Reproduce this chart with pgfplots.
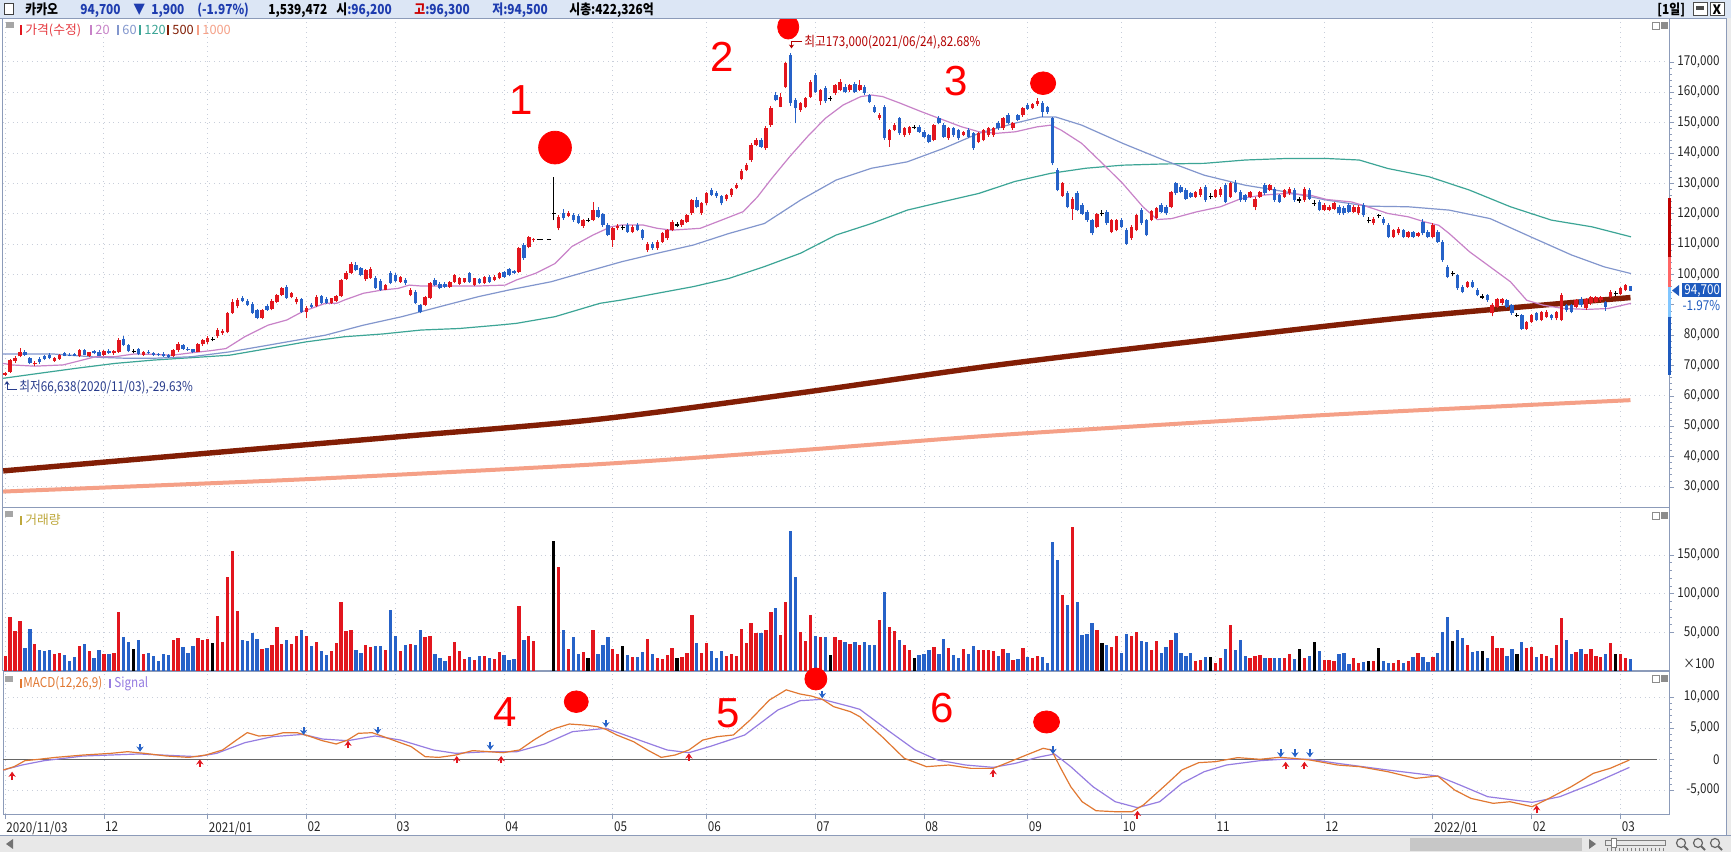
\documentclass[border=0pt]{standalone}
\usepackage{fontspec}
\setmainfont{Noto Sans CJK KR}
\newfontfamily\cond{Noto Sans CJK KR}[FakeStretch=0.86]
\newfontfamily\numfont{Liberation Sans}
\usepackage{pgfplots}
\usepackage{pgfplotstable}
\pgfplotsset{compat=1.18}
\usetikzlibrary{arrows.meta}
\definecolor{cred}{RGB}{226,22,30}
\definecolor{cblue}{RGB}{38,98,200}
\definecolor{ma20}{RGB}{200,130,200}
\definecolor{ma60}{RGB}{130,150,205}
\definecolor{ma120}{RGB}{60,165,150}
\definecolor{ma500}{RGB}{130,30,5}
\definecolor{ma1000}{RGB}{245,160,135}
\definecolor{macdc}{RGB}{225,120,50}
\definecolor{sigc}{RGB}{150,125,225}
\definecolor{framec}{RGB}{140,155,185}
\definecolor{gridc}{RGB}{200,206,218}
\definecolor{hdrbg}{RGB}{220,230,245}
\definecolor{annred}{RGB}{255,0,0}
\definecolor{hblue}{RGB}{30,60,175}
\definecolor{maxc}{RGB}{180,0,0}
\definecolor{minc}{RGB}{40,60,140}
\definecolor{volc}{RGB}{190,168,60}
\definecolor{boxblue}{RGB}{30,90,190}
\newcommand\tf{\cond\fontsize{6.8pt}{7pt}\selectfont}
\newcommand\lf{\fontsize{6.4pt}{7pt}\selectfont}
\newcommand\hf{\cond\bfseries\fontsize{6.9pt}{8pt}\selectfont}

\pgfplotstableread{
i o h l c v
0 66.9 68.0 66.6 67.5 19.5
1 68.0 72.3 67.6 71.8 70.1
2 71.6 73.0 71.0 72.6 52.0
3 73.0 75.8 72.8 74.4 65.0
4 74.6 75.2 73.2 73.5 29.5
5 72.4 72.8 70.5 70.9 54.6
6 70.4 71.6 69.9 71.0 35.1
7 72.2 72.8 70.6 71.1 26.9
8 73.0 73.6 71.8 72.3 26.0
9 73.5 74.0 72.0 72.4 27.3
10 71.6 72.8 71.2 72.4 22.1
11 72.2 73.8 71.9 73.4 23.4
12 74.0 74.5 73.1 73.3 20.8
13 73.6 74.0 73.0 73.2 13.0
14 73.8 74.2 73.0 73.3 18.2
15 73.0 75.4 72.8 75.0 32.5
16 75.1 75.6 73.4 73.6 35.1
17 73.2 74.6 72.9 74.4 26.0
18 74.8 75.2 73.8 74.0 16.9
19 74.6 75.0 73.0 73.2 27.3
20 73.5 75.0 73.2 74.8 22.1
21 74.9 75.3 73.9 74.2 22.1
22 74.0 75.2 73.6 74.9 23.4
23 74.6 79.2 74.2 78.3 76.6
24 78.8 79.6 76.4 76.8 44.2
25 76.8 77.2 74.4 74.7 37.7
26 74.6 75.3 74.0 74.6 28.6
27 75.4 75.8 73.4 73.8 40.3
28 73.6 74.8 73.3 74.5 22.1
29 74.6 75.0 73.8 74.0 23.4
30 74.2 74.6 73.3 73.6 19.5
31 73.8 74.2 73.1 73.4 13.0
32 73.9 74.4 72.9 73.1 22.1
33 73.4 73.8 72.6 72.9 20.8
34 73.0 75.6 72.8 75.2 40.3
35 75.1 77.6 74.6 77.0 42.9
36 76.8 77.2 75.2 75.6 31.2
37 75.6 76.0 74.8 75.1 23.4
38 75.3 75.6 74.2 74.5 32.5
39 74.6 77.3 74.4 77.0 42.9
40 77.0 78.6 76.6 78.3 40.7
41 77.6 79.6 77.2 79.2 41.6
42 78.6 79.4 78.0 78.6 36.4
43 79.6 82.3 79.2 81.7 71.4
44 80.8 82.0 80.2 81.3 38.1
45 80.9 87.8 80.6 87.2 122.1
46 87.4 92.0 87.0 91.0 155.9
47 89.6 92.4 88.8 91.6 77.9
48 92.2 92.8 90.8 91.1 40.3
49 91.2 91.8 89.6 90.0 39.0
50 90.4 90.8 87.0 87.4 49.4
51 88.2 88.6 85.3 85.7 41.6
52 85.6 88.6 85.2 88.2 28.6
53 89.6 90.2 88.0 88.4 29.9
54 88.6 91.8 88.2 91.2 33.8
55 91.0 93.6 90.6 93.2 57.2
56 93.4 96.0 93.0 95.6 35.1
57 95.8 96.6 92.0 92.4 40.3
58 92.6 94.2 92.2 93.8 35.1
59 91.0 92.6 90.4 92.0 45.5
60 92.0 92.4 87.4 87.8 53.3
61 87.8 89.6 85.5 89.0 45.5
62 90.0 90.6 89.0 89.4 32.5
63 89.6 93.2 89.2 92.7 37.7
64 92.8 93.4 90.2 90.6 26.0
65 92.0 92.6 90.2 90.6 20.8
66 90.6 92.4 90.2 92.1 26.0
67 91.2 93.2 90.8 92.8 36.4
68 92.8 98.6 92.5 98.2 89.6
69 98.6 101.0 98.2 100.4 52.0
70 100.4 104.2 100.0 103.6 53.3
71 103.2 104.0 101.0 101.4 27.3
72 102.0 102.6 99.4 99.8 23.4
73 98.4 101.8 98.0 101.4 33.8
74 99.0 102.4 98.6 101.8 31.2
75 99.0 99.4 95.2 95.6 32.5
76 97.8 98.4 94.6 95.0 32.5
77 95.0 97.0 94.8 96.5 26.9
78 100.4 101.0 96.8 97.2 79.2
79 99.8 100.4 97.4 97.8 45.5
80 97.6 99.6 97.2 99.2 26.0
81 98.2 98.8 96.6 97.1 33.8
82 93.2 95.4 92.8 94.9 35.1
83 94.3 94.8 90.2 90.5 33.3
84 89.9 90.4 87.2 87.7 53.3
85 89.9 93.0 89.6 92.7 44.2
86 92.1 97.6 91.8 97.1 45.5
87 98.2 98.8 96.2 96.5 22.1
88 96.9 97.4 95.1 95.4 16.9
89 96.9 97.4 95.6 96.0 13.0
90 96.0 97.8 95.6 97.4 19.5
91 97.6 100.2 97.2 99.8 37.7
92 97.0 99.2 96.6 98.7 26.0
93 97.6 99.0 97.2 98.7 15.6
94 100.4 100.8 97.2 97.6 18.2
95 96.5 99.0 96.2 98.7 14.3
96 98.4 98.8 96.8 97.1 19.5
97 97.1 99.6 96.8 99.3 19.5
98 99.3 99.8 97.2 97.6 16.9
99 98.2 99.8 97.8 99.3 15.6
100 98.7 100.8 98.4 100.4 24.7
101 100.8 101.2 99.0 99.3 20.4
102 101.7 102.2 99.4 99.8 14.3
103 101.0 101.6 100.0 100.4 15.6
104 100.9 109.0 100.6 108.6 84.4
105 109.7 110.4 104.8 105.3 40.3
106 109.1 112.6 108.6 112.2 45.5
107 111.2 112.0 110.8 111.6 39.0
111 120.1 132.2 117.9 120.1 168.8
112 115.2 119.6 114.6 119.0 135.1
113 120.1 121.6 118.0 118.5 53.3
114 119.4 121.0 118.8 120.4 28.6
115 119.6 120.2 117.4 117.8 44.2
116 119.4 119.8 116.6 117.0 22.1
117 116.0 118.4 115.4 118.0 24.7
118 117.9 118.6 117.2 117.9 16.9
119 118.0 124.0 117.6 121.2 53.3
120 121.4 122.2 118.6 119.0 22.1
121 120.0 120.4 115.8 116.3 33.8
122 116.3 116.8 112.6 113.0 44.2
123 111.3 115.6 109.2 115.2 28.6
124 115.2 116.6 114.6 116.1 22.1
125 115.4 116.4 114.6 115.4 32.5
126 116.3 116.8 113.8 114.1 20.8
127 114.1 116.2 113.6 115.7 18.2
128 116.3 116.8 114.2 114.6 18.2
129 114.6 115.0 111.4 111.9 24.7
130 108.1 110.6 107.4 110.2 41.6
131 110.2 110.8 108.2 108.6 22.1
132 108.6 111.2 108.2 110.8 16.9
133 110.8 113.9 110.4 113.5 15.6
134 111.9 115.0 111.5 114.6 20.8
135 114.6 117.8 114.2 117.4 29.9
136 116.3 117.2 115.6 116.3 16.9
137 116.3 118.3 115.8 117.9 18.2
138 117.4 120.0 117.0 119.6 23.4
139 120.1 125.0 119.6 124.5 72.7
140 124.5 125.4 121.8 122.3 36.4
141 120.1 123.8 119.6 123.4 23.4
142 123.4 127.2 123.0 126.7 36.4
143 127.8 128.4 125.8 126.2 26.0
144 127.0 127.6 125.2 125.7 16.9
145 125.7 126.2 122.8 123.4 26.0
146 124.8 126.6 124.2 126.1 19.5
147 126.1 128.5 125.6 128.0 22.1
148 128.4 130.0 128.0 129.5 19.5
149 131.5 134.6 131.0 134.0 54.6
150 134.4 136.8 134.0 136.1 36.4
151 137.6 143.2 137.2 142.6 62.3
152 142.6 145.0 142.2 144.3 49.4
153 144.3 145.0 141.6 142.1 49.4
154 141.5 148.8 141.0 148.1 53.3
155 149.2 155.4 148.6 154.7 76.6
156 159.1 160.0 157.0 157.5 81.8
157 155.3 159.7 155.0 158.6 46.8
158 161.9 170.0 161.4 169.5 89.6
159 172.3 173.0 155.6 156.4 181.8
160 157.5 158.0 149.8 154.7 122.1
161 154.2 156.8 153.6 156.4 50.7
162 155.3 158.6 154.8 158.0 39.0
163 158.6 164.0 158.2 163.5 72.7
164 165.8 166.4 159.8 160.2 45.5
165 157.0 161.2 155.8 160.8 43.7
166 161.4 162.0 156.6 157.0 43.7
167 158.0 158.8 157.2 158.0 20.8
168 159.7 162.8 159.2 162.4 44.2
169 160.8 164.4 160.4 163.5 40.3
170 161.9 162.6 159.8 160.2 37.7
171 160.8 162.8 160.2 162.4 35.1
172 162.9 163.4 159.8 160.2 37.7
173 160.8 164.0 160.4 162.4 33.8
174 161.9 162.4 159.2 159.7 37.7
175 159.1 159.6 156.4 156.9 33.8
176 155.3 155.8 153.2 153.6 33.8
177 151.4 153.2 151.0 152.5 66.3
178 155.3 155.8 144.4 144.8 102.6
179 144.3 148.0 142.1 147.6 57.2
180 147.6 149.8 147.2 149.2 52.0
181 151.4 152.0 146.0 146.5 40.3
182 145.9 148.6 145.4 148.1 33.8
183 146.5 149.0 146.0 148.7 27.3
184 148.5 149.2 147.8 148.5 16.9
185 148.7 149.2 146.6 147.0 20.8
186 147.0 147.6 145.0 145.4 22.1
187 145.9 146.4 143.2 143.7 27.3
188 144.3 149.6 143.8 149.2 31.2
189 151.4 152.2 149.4 149.8 22.1
190 149.2 149.8 145.0 145.4 41.6
191 144.8 148.6 144.4 148.1 29.9
192 148.1 148.6 145.4 145.9 20.8
193 147.6 148.0 144.4 144.8 16.9
194 146.0 147.4 145.6 147.0 28.6
195 147.6 148.2 145.0 145.4 22.1
196 146.5 147.0 141.0 141.5 32.5
197 143.7 146.8 143.2 146.5 27.3
198 144.3 148.0 143.8 147.6 27.3
199 145.9 148.6 145.4 148.1 27.3
200 145.9 148.6 145.4 148.1 26.0
201 149.8 150.4 147.6 148.1 19.5
202 148.1 151.8 147.6 151.4 28.6
203 152.5 153.2 149.4 149.8 23.4
204 148.1 150.2 147.6 149.8 14.3
205 152.5 153.0 150.4 150.9 15.6
206 152.5 155.2 152.0 154.7 29.9
207 155.8 156.4 154.2 154.4 18.2
208 154.8 156.4 154.4 156.0 16.9
209 156.0 158.0 155.6 157.2 19.5
210 156.4 157.0 152.0 153.6 18.2
211 155.0 155.6 153.0 153.6 10.4
212 151.4 152.0 136.0 136.6 167.5
213 134.4 135.2 127.4 127.8 144.2
214 126.0 130.6 125.6 130.0 98.7
215 127.0 127.6 121.8 122.3 85.7
216 121.7 125.6 118.0 125.0 187.0
217 126.7 127.4 120.8 121.2 89.6
218 123.0 123.6 119.6 120.0 46.8
219 120.6 121.2 117.4 117.9 48.1
220 117.9 118.4 113.0 113.5 62.4
221 115.7 120.4 115.2 120.0 53.3
222 120.0 121.2 119.2 120.0 36.4
223 120.6 121.2 116.4 116.8 33.8
224 114.0 118.4 113.6 118.0 31.2
225 114.6 118.4 114.2 117.9 45.5
226 117.9 118.6 115.2 115.7 23.4
227 114.6 115.2 109.8 110.2 48.1
228 111.9 116.2 111.4 115.7 45.5
229 114.6 120.0 114.2 119.5 50.7
230 121.2 121.8 116.4 116.8 39.0
231 117.9 118.4 112.6 113.0 37.7
232 118.0 121.4 117.6 121.0 27.3
233 118.7 122.2 118.2 121.8 39.0
234 122.9 123.4 120.2 120.6 23.4
235 122.3 122.8 119.6 120.1 31.2
236 122.3 127.6 121.8 127.2 40.3
237 130.0 130.6 126.2 126.7 49.4
238 128.9 129.4 126.8 127.2 23.4
239 127.8 128.4 124.6 125.0 19.5
240 126.7 127.2 125.2 125.6 23.4
241 125.6 127.6 125.2 127.2 13.4
242 126.1 128.8 125.6 128.3 14.3
243 128.9 129.6 124.0 124.5 18.2
244 125.6 126.8 124.8 125.6 18.2
245 125.6 128.2 125.2 127.8 10.4
246 126.1 128.8 125.6 128.3 16.9
247 129.4 130.0 123.4 123.9 28.6
248 125.6 130.4 125.2 130.0 59.8
249 130.0 131.0 126.8 127.2 27.3
250 127.2 127.8 124.0 124.5 40.3
251 126.1 126.6 124.0 124.5 19.5
252 125.6 127.6 125.2 127.2 16.9
253 122.3 125.4 121.2 125.0 19.5
254 125.6 127.6 125.2 127.2 20.8
255 129.4 130.0 126.2 126.7 16.9
256 127.8 129.8 127.4 129.4 16.9
257 128.3 128.8 124.0 124.5 16.9
258 126.1 126.6 123.6 124.0 16.9
259 125.6 128.2 125.2 127.8 16.9
260 126.7 128.9 126.2 128.3 22.1
261 127.8 128.4 124.0 124.5 15.6
262 124.5 125.6 123.6 124.5 28.6
263 124.5 128.8 124.0 128.3 16.9
264 127.8 128.4 124.6 125.0 19.5
265 123.4 124.4 122.6 123.4 37.7
266 124.0 124.6 120.8 121.2 26.0
267 121.2 123.4 120.8 122.9 14.3
268 121.2 122.8 120.8 122.3 14.3
269 121.6 123.8 121.2 123.4 13.0
270 122.3 122.8 119.6 120.1 22.1
271 121.8 122.4 119.6 120.1 23.4
272 122.9 123.4 120.2 120.6 9.1
273 120.6 122.8 120.2 122.3 16.9
274 120.1 122.8 119.6 122.3 10.4
275 122.9 123.4 119.0 119.5 11.7
276 117.9 119.0 116.8 117.9 13.0
277 116.8 118.8 116.4 118.4 13.4
278 119.3 120.0 118.6 119.3 29.9
279 118.4 118.8 116.4 116.8 13.0
280 116.2 116.8 112.0 112.4 10.4
281 112.4 115.0 112.0 114.6 10.4
282 113.5 115.6 113.0 115.1 14.3
283 114.6 115.0 112.0 112.4 10.4
284 112.4 114.4 112.0 114.0 13.0
285 114.0 114.4 112.0 112.4 18.2
286 112.6 113.9 112.2 113.5 23.4
287 117.3 118.4 113.0 113.5 17.8
288 114.0 114.6 112.0 112.4 11.7
289 112.4 116.8 112.0 116.2 18.2
290 114.0 114.6 110.4 110.8 23.4
291 110.8 111.2 104.2 104.7 50.7
292 102.5 103.0 98.8 99.2 70.1
293 100.3 101.0 99.4 100.3 39.0
294 99.8 100.2 95.0 95.4 53.3
295 96.0 96.6 93.8 94.3 42.9
296 96.0 98.0 95.6 97.6 33.8
297 97.6 98.2 95.6 96.0 24.7
298 95.0 95.4 92.8 93.2 26.0
299 92.6 93.6 92.0 92.6 26.0
300 93.2 93.6 91.0 91.5 16.9
301 87.2 90.6 86.2 89.9 45.5
302 89.3 92.4 88.8 92.0 29.9
303 90.5 92.4 90.0 92.0 29.9
304 91.5 92.0 88.8 89.3 19.5
305 89.9 90.4 86.8 87.2 28.6
306 86.6 87.4 86.0 86.6 22.1
307 86.6 87.0 81.8 82.2 37.7
308 82.2 84.8 81.8 84.4 29.9
309 84.4 87.0 84.0 86.6 31.2
310 87.2 87.6 84.6 85.0 17.8
311 85.0 88.0 84.6 87.7 22.1
312 86.1 88.2 85.6 87.7 19.5
313 86.6 87.0 85.0 85.5 16.9
314 85.5 88.0 85.0 87.7 33.8
315 85.0 93.8 84.6 93.2 68.8
316 89.9 90.4 87.8 88.3 40.3
317 89.9 90.4 87.2 87.7 22.1
318 89.3 91.8 88.8 91.5 24.7
319 92.0 92.6 89.4 89.9 28.6
320 88.8 92.4 88.4 92.0 22.1
321 90.5 93.0 90.0 92.6 28.6
322 91.0 93.0 90.6 92.6 19.5
323 91.5 93.0 91.0 92.6 17.8
324 91.0 91.4 88.0 89.3 22.1
325 92.6 94.8 92.2 94.3 36.4
326 93.7 94.6 93.0 93.7 22.1
327 93.7 95.8 93.4 95.4 22.1
328 94.8 97.0 94.4 96.5 16.9
329 96.2 96.3 94.5 94.7 15.6
}\candles

\pgfplotsset{panel/.style={
  scale only axis, anchor=south west, width=833pt,
  xmin=-0.445, xmax=336.8,
  axis background/.style={fill=white},
  axis line style={framec, line width=0.5pt},
  xtick={0,20,41,61,79,101,123,142,164,186,207,226,245,267,289,309,327},
  grid=major, grid style={gridc, dotted, line width=0.5pt},
  ytick pos=right, yticklabel pos=right,
  tick align=outside,
  major tick length=2.5pt, minor tick length=1.4pt,
  every tick/.style={framec, line width=0.4pt},
  yticklabel style={font=\tf, anchor=east, inner sep=0pt, xshift=23pt, text=black!85},
  clip=false,
},
ebar/.style={only marks, mark=*, mark size=0pt, mark options={draw=none, fill=none}},
}

\begin{document}
\begin{tikzpicture}
\path[use as bounding box] (0,0) rectangle (865.5pt,426pt);
\fill[white] (0,0) rectangle (865.5pt,426pt);

% ---------------- price panel
\begin{axis}[panel, at={(1.5pt,172pt)}, height=244.5pt, ymin=23.08, ymax=184.15,
  xticklabels={}, xtick style={draw=none},
  ytick={30,40,...,170},
  yticklabels={{30,000},{40,000},{50,000},{60,000},{70,000},{80,000},{90,000},{100,000},{110,000},{120,000},{130,000},{140,000},{150,000},{160,000},{170,000}},
  minor y tick num=4]
\addplot[ma1000, line width=2pt, smooth, tension=0.4] coordinates {(-0.4,28.5) (60,32.5) (120,37.5) (160,42) (201,47.1) (267,53.7) (329,58.6)};
\addplot[ma500, line width=2.7pt, smooth, tension=0.5] coordinates {(-0.4,35.3) (40,41.0) (80,46.6) (120,52.3) (160,60.8) (201,70.2) (243,78.4) (284,85.9) (329,92.4)};
\addplot[ma120, line width=0.6pt] coordinates {(-0.4,65.8) (6.7,67.4) (14.4,69.1) (22.2,70.7) (30,71.8) (37.7,72.6) (45.4,73.4) (53.2,75.6) (60.9,77.8) (68.7,79.5) (76.4,80.4) (84.2,81.7) (91.9,82.2) (99.7,83.3) (103.5,83.9) (111.3,86.1) (120.4,90.5) (124.8,91.6) (132,93.8) (139.3,96) (146.5,98.7) (153.7,102.6) (161,107) (168.2,113) (175.4,116.8) (182.6,121.2) (189.9,124) (197.1,126.7) (204.3,130.6) (211.6,133.3) (218.8,135) (226.2,136) (234.5,136.4) (242.7,136.6) (251,137.7) (259.3,138.2) (267.5,138.2) (274.1,137.7) (279.9,134.9) (288.2,132.2) (296.4,127.8) (304.7,122.3) (313,117.9) (321.2,115.7) (329.1,112.4)};
\addplot[ma60, line width=0.6pt] coordinates {(-0.4,73.8) (9.8,73.8) (19.1,72.7) (24.5,72.4) (30,72.4) (37.7,72.9) (45.4,74.5) (53.2,76.7) (64.8,80) (72.5,83.3) (80.3,86.1) (88,89.4) (95.8,92.7) (102,94.9) (110.5,97.6) (117.6,100.9) (124.8,104.2) (132,107) (139.3,109.7) (146.5,113.5) (153.7,116.8) (161,124.5) (168.2,131.1) (175.4,135) (182.6,137.1) (189.9,141.5) (197.1,146.5) (204.3,149.8) (209.7,151.9) (212.6,151.9) (217.9,149.2) (226.2,143.2) (234.5,137.7) (242.7,132.7) (251,129.4) (259.3,127.2) (267.5,124.5) (275.8,122.5) (284,122.3) (292.3,121.2) (300.6,118.4) (308.8,112.4) (317.1,106.4) (323.7,102.5) (329.1,100.3)};
\addplot[ma20, line width=0.6pt] coordinates {(-0.4,70.7) (1.3,70.2) (6,69.8) (11.7,70.2) (14.4,71.3) (18.3,72.9) (22.2,72.9) (26,73.8) (30,73.7) (33.8,73.4) (37.7,74.2) (41.6,74.9) (44.7,75.6) (48.5,79.5) (53.2,83.3) (57,85) (60.1,87.7) (64.8,90.5) (67.1,90.5) (68.7,91.6) (72.5,93.8) (76.4,94.9) (79.5,95.4) (81.8,96.5) (84.2,96.2) (90.4,96.2) (95.8,96.2) (101.2,96.5) (103.5,98.2) (107.4,100.4) (111.3,103.6) (114.7,109.2) (119,113) (122.6,115.7) (124.8,116.3) (129.1,116.3) (132,115.2) (134.9,114.6) (140.7,115.2) (145,117.9) (149.4,120.7) (152.3,125.6) (155.2,131.7) (158.8,138.8) (162.4,145.4) (166,151.4) (169.6,155.8) (173.2,158.6) (175.4,159.1) (177.6,158.6) (181.2,156.4) (185.5,153.6) (189.9,150.9) (193.5,148.7) (197.1,147) (200.7,146.5) (204.5,147) (208.8,148.6) (211.7,149.2) (213.8,147.5) (217.9,143.2) (222.1,136.6) (226.2,130) (230.3,122.3) (233.2,118.1) (236.1,118.4) (241.1,120.6) (246,122.3) (250.2,125) (254.3,126.1) (259.3,126.7) (264.2,126.1) (267.5,124.7) (272.5,123.9) (275.8,122.3) (279.9,120.1) (284,119) (287.4,117.3) (290.2,116.2) (292.3,113.5) (296.4,107.5) (300.6,102.5) (304.7,97.6) (308,91.5) (311.3,89.9) (315.4,88.8) (320.4,88.5) (324.5,88.8) (329.1,90.5)};
% wicks
\addplot[ebar, restrict expr to domain={\thisrow{c}-\thisrow{o}}{0.05:1000},
  error bars/.cd, y dir=plus, y explicit, error mark=none, error bar style={draw=cred, line width=0.5pt}]
  table[x=i, y=l, y error plus expr={\thisrow{h}-\thisrow{l}}] {\candles};
\addplot[ebar, restrict expr to domain={\thisrow{c}-\thisrow{o}}{-1000:-0.05},
  error bars/.cd, y dir=plus, y explicit, error mark=none, error bar style={draw=cblue, line width=0.5pt}]
  table[x=i, y=l, y error plus expr={\thisrow{h}-\thisrow{l}}] {\candles};
\addplot[ebar, restrict expr to domain={\thisrow{c}-\thisrow{o}}{-0.05:0.05},
  error bars/.cd, y dir=plus, y explicit, error mark=none, error bar style={draw=black, line width=0.5pt}]
  table[x=i, y=l, y error plus expr={\thisrow{h}-\thisrow{l}}] {\candles};
% bodies
\addplot[ebar, restrict expr to domain={\thisrow{c}-\thisrow{o}}{0.05:1000},
  error bars/.cd, y dir=plus, y explicit, error mark=none, error bar style={draw=cred, line width=1.7pt}]
  table[x=i, y=o, y error plus expr={\thisrow{c}-\thisrow{o}}] {\candles};
\addplot[ebar, restrict expr to domain={\thisrow{c}-\thisrow{o}}{-1000:-0.05},
  error bars/.cd, y dir=plus, y explicit, error mark=none, error bar style={draw=cblue, line width=1.7pt}]
  table[x=i, y=c, y error plus expr={\thisrow{o}-\thisrow{c}}] {\candles};
\addplot[only marks, mark=-, mark size=1pt, mark options={draw=black, line width=0.6pt},
  restrict expr to domain={\thisrow{c}-\thisrow{o}}{-0.05:0.05}]
  table[x=i, y=c] {\candles};
% trading halt gap
\addplot[black, densely dashed, line width=0.5pt] coordinates {(107.6,111.6) (110.5,111.6)};
% markers
\addplot[only marks, mark=*, annred, mark size=8.2pt] coordinates {(111.3,141.8)};
\addplot[only marks, mark=*, annred, mark size=6pt, mark options={xscale=0.88}] coordinates {(158.5,181.5)};
\addplot[only marks, mark=*, annred, mark size=6.3pt, mark options={yscale=0.9}] coordinates {(210.1,163.0)};
\end{axis}

% ---------------- volume panel
\begin{axis}[panel, at={(1.5pt,90.5pt)}, height=81.5pt, ymin=0, ymax=211,
  xticklabels={}, xtick style={draw=none},
  ytick={50,100,150}, yticklabels={{50,000},{100,000},{150,000}},
  minor y tick num=4,
  extra y ticks={9.8}, extra y tick labels={{×100}}, extra y tick style={grid=none, major tick length=0pt}]
\addplot[ycomb, draw=cred, line width=1.65pt, restrict expr to domain={\thisrow{c}-\thisrow{o}}{0.05:1000}] table[x=i, y=v] {\candles};
\addplot[ycomb, draw=cblue, line width=1.65pt, restrict expr to domain={\thisrow{c}-\thisrow{o}}{-1000:-0.05}] table[x=i, y=v] {\candles};
\addplot[ycomb, draw=black, line width=1.65pt, restrict expr to domain={\thisrow{c}-\thisrow{o}}{-0.05:0.05}] table[x=i, y=v] {\candles};
\end{axis}

% ---------------- MACD panel
\begin{axis}[panel, at={(1.5pt,19pt)}, height=71.5pt, ymin=-8.82, ymax=14.24,
  xtick pos=bottom,
  xticklabels={2020/11/03,12,2021/01,02,03,04,05,06,07,08,09,10,11,12,2022/01,02,03},
  xticklabel style={font=\tf, anchor=north west, inner sep=0pt, xshift=0.4pt, yshift=-1pt, text=black!85},
  ytick={-5,0,5,10}, yticklabels={{-5,000},{0},{5,000},{10,000}},
  minor y tick num=4]
\addplot[black!60, line width=0.6pt] coordinates {(-0.445,0) (334.4,0)};
\addplot[sigc, line width=0.6pt] coordinates {(-0.4,-1.73) (3.45,-0.91) (7.9,-0.22) (15.8,0.53) (27.1,0.86) (32.7,0.65) (38.9,0.43) (42.8,0.96) (48.5,2.68) (54.1,3.65) (60.3,4.02) (64.2,3.27) (69.3,3.0) (74.9,3.76) (80,3.11) (86.7,1.5) (91.2,0.96) (97.9,1.23) (103.6,1.23) (109.2,2.47) (114.8,4.45) (121.6,5.0) (128.3,3.11) (134,1.5) (138.4,1.07) (143,2.15) (149.7,3.92) (156.4,7.95) (160.9,9.45) (165.4,9.67) (171.1,8.49) (173,8.06) (178.6,4.72) (184.2,1.5) (188.7,-0.11) (194.4,-0.92) (200,-1.3) (204.5,-0.65) (209,0.32) (212.4,0.86) (215.7,-1.19) (220.2,-4.42) (224.7,-6.84) (229.2,-7.8) (233.7,-6.84) (238.2,-3.88) (242.7,-2.0) (247.2,-0.92) (254,-0.22) (258.5,0) (264.1,0) (269.7,-0.65) (279.9,-1.73) (290,-2.7) (294.5,-4.15) (300.1,-6.03) (309.1,-6.94) (314.7,-6.03) (321.5,-3.88) (328.8,-1.3)};
\addplot[macdc, line width=0.6pt] coordinates {(-0.4,-1.73) (1.8,-1.19) (4,-0.22) (6.8,0) (10.2,0.31) (15.8,0.69) (21.4,0.96) (24.8,1.23) (28.2,0.96) (32.7,0.53) (37.2,0.31) (40.6,0.69) (44,1.5) (46.8,3.1) (49,4.3) (51.3,3.76) (54.1,3.86) (56.3,4.29) (59.1,4.29) (61.4,3.76) (64.2,3.0) (67,2.47) (69.3,3.1) (71.5,4.19) (74.3,4.29) (76.6,3.65) (79.4,2.84) (82.2,2.04) (85,0.43) (87.8,0.31) (91.2,0.69) (94.6,1.4) (97.9,1.23) (100.8,1.07) (104.1,1.5) (107,3.1) (109.8,4.45) (111.4,5.0) (114.2,5.69) (117.1,5.53) (119.9,5.26) (121.6,4.83) (123.8,3.92) (127.2,2.84) (130,1.5) (132.8,0.31) (135.6,0.69) (138.4,1.5) (141.2,3.1) (144.1,3.65) (147.4,3.92) (150.8,6.34) (154.7,9.56) (158.1,11.2) (160.9,10.53) (163.2,10.2) (165.4,9.67) (167.7,8.49) (171.1,7.68) (173,6.87) (177.5,3.65) (182,0.16) (186.5,-1.19) (191,-0.92) (195.5,-1.46) (200,-1.46) (203.4,-0.38) (206.7,0.69) (210.1,1.77) (211.8,1.5) (213.5,-1.19) (215.7,-4.42) (218,-6.84) (220.8,-8.29) (224.7,-8.45) (228.1,-8.45) (230.4,-7.37) (234.9,-4.15) (238.2,-1.72) (241.6,-0.54) (245,-0.38) (249.5,0.27) (254,0) (257.9,0.32) (260.7,0.16) (264.1,-0.11) (269.7,-0.92) (274.2,-1.19) (279.9,-2.0) (285.5,-3.07) (290,-2.7) (293.4,-4.95) (296.7,-6.3) (301.2,-7.1) (304.6,-6.84) (309.1,-7.64) (312.5,-6.3) (317,-4.42) (321.5,-2.26) (324.9,-1.45) (328.8,-0.11)};
\addplot[quiver={u=0, v=\thisrow{v}}, -{Stealth[length=2.6pt,width=3.6pt]}, cred, line width=1pt] table[x=x, y=y] {
x y v
1.4 -3.34 1.34
39.4 -1.19 1.19
69.4 1.77 1.23
91.4 -0.65 1.18
100.4 -0.65 1.18
138.4 -0.22 1.19
200 -2.9 1.3
229.2 -9.6 1.3
259.2 -1.6 1.2
263 -1.6 1.2
310 -8.7 1.3
};
\addplot[quiver={u=0, v=\thisrow{v}}, -{Stealth[length=2.6pt,width=3.6pt]}, cblue, line width=1pt] table[x=x, y=y] {
x y v
27.3 2.47 -1.24
60.4 5.16 -1.24
75.4 5.26 -1.18
98.2 2.84 -1.34
121.6 6.34 -1.18
165.4 11.06 -1.22
212.1 2.15 -1.3
258.2 1.66 -1.34
261.1 1.66 -1.34
264.1 1.66 -1.34
};
\addplot[only marks, mark=*, annred, mark size=6pt, mark options={yscale=0.9}] coordinates {(115.6,9.29)};
\addplot[only marks, mark=*, annred, mark size=5.5pt] coordinates {(164.1,12.95)};
\addplot[only marks, mark=*, annred, mark size=6.5pt, mark options={yscale=0.85}] coordinates {(210.8,6.02)};
\end{axis}

% ---------------- overlays in pixel units (origin top-left)
\begin{scope}[x=0.5pt, y=-0.5pt, yshift=426pt]
% header
\fill[hdrbg] (0,0) rectangle (1731,18);
\draw[framec, line width=0.5pt] (0,18.25) -- (1731,18.25);
\draw[black!75, fill=white, line width=0.5pt] (4,4) rectangle (13.5,14.5);
\node[anchor=base west, inner sep=0pt] at (25,15) {\hf 카카오};
\node[anchor=base west, inner sep=0pt, text=hblue] at (80,15) {\hf 94,700};
\node[anchor=base west, inner sep=0pt, text=hblue] at (133,15) {\hf ▼};
\node[anchor=base west, inner sep=0pt, text=hblue] at (151,15) {\hf 1,900};
\node[anchor=base west, inner sep=0pt, text=hblue] at (197,15) {\hf (-1.97\%)};
\node[anchor=base west, inner sep=0pt] at (268,15) {\hf 1,539,472};
\node[anchor=base west, inner sep=0pt] at (336,15) {\hf 시\textcolor{hblue}{:96,200}};
\node[anchor=base west, inner sep=0pt] at (414,15) {\hf \textcolor{red!80!black}{고}\textcolor{hblue}{:96,300}};
\node[anchor=base west, inner sep=0pt, text=hblue] at (492,15) {\hf 저:94,500};
\node[anchor=base west, inner sep=0pt] at (569,15) {\hf 시총:422,326억};
\node[anchor=base west, inner sep=0pt] at (1657,15) {\hf [1일]};
\draw[black!70, fill=white, line width=0.5pt] (1693,3) rectangle (1707,16);
\fill[black!70] (1696,6) rectangle (1704,10);
\draw[black!70, fill=white, line width=0.5pt] (1710,3) rectangle (1724,16);
\node[inner sep=0pt] at (1717,9.8) {\bfseries\fontsize{6.5pt}{7pt}\selectfont X};
% legend price
\fill[black!35] (6,22) rectangle (14,28);
\fill[cred] (19.5,25) rectangle (21.5,35);
\node[anchor=base west, inner sep=0pt, text=cred!85] at (25,35) {\lf 가격(수정)};
\fill[ma20] (90,25) rectangle (92,35);
\node[anchor=base west, inner sep=0pt, text=ma20] at (95,35) {\lf 20};
\fill[ma60] (117,25) rectangle (119,35);
\node[anchor=base west, inner sep=0pt, text=ma60] at (122,35) {\lf 60};
\fill[ma120] (139,25) rectangle (141,35);
\node[anchor=base west, inner sep=0pt, text=ma120] at (144,35) {\lf 120};
\fill[ma500] (167,25) rectangle (169,35);
\node[anchor=base west, inner sep=0pt, text=ma500] at (172,35) {\lf 500};
\fill[ma1000] (197,25) rectangle (199,35);
\node[anchor=base west, inner sep=0pt, text=ma1000] at (202,35) {\lf 1000};
% panel icons
\foreach \yy in {22,512,675}{
  \draw[black!45, fill=white, line width=0.4pt] (1652,\yy) rectangle (1659,\yy+7);
  \fill[black!45] (1661,\yy) rectangle (1668,\yy+7);
}
% volume legend
\fill[black!35] (5,511) rectangle (13,517);
\fill[volc] (19.5,516) rectangle (21.5,525);
\node[anchor=base west, inner sep=0pt, text=volc] at (25,525) {\lf 거래량};
% macd legend
\fill[black!35] (5,676) rectangle (13,682);
\fill[macdc] (19.5,679) rectangle (21.5,688);
\node[anchor=base west, inner sep=0pt, text=macdc] at (23,688) {\tf MACD(12,26,9)};
\fill[sigc] (109,679) rectangle (111,688);
\node[anchor=base west, inner sep=0pt, text=sigc] at (114,688) {\tf Signal};
% max / min annotations
\draw[maxc, line width=0.5pt, -{Stealth[length=2pt,width=2.6pt]}] (802,41.5) -- (791.5,41.5) -- (791.5,48.5);
\node[anchor=base west, inner sep=0pt, text=maxc] at (804,47) {\tf 최고173,000(2021/06/24),82.68\%};
\draw[minc, line width=0.5pt, -{Stealth[length=2pt,width=2.6pt]}] (17,390) -- (7,390) -- (7,381);
\node[anchor=base west, inner sep=0pt, text=minc] at (19,392) {\tf 최저66,638(2020/11/03),-29.63\%};
% big red numbers
\node[text=annred, inner sep=0pt] at (521,100) {\numfont\fontsize{21pt}{22pt}\selectfont 1};
\node[text=annred, inner sep=0pt] at (722,57) {\numfont\fontsize{21pt}{22pt}\selectfont 2};
\node[text=annred, inner sep=0pt] at (956,81) {\numfont\fontsize{21pt}{22pt}\selectfont 3};
\node[text=annred, inner sep=0pt] at (505,712) {\numfont\fontsize{21pt}{22pt}\selectfont 4};
\node[text=annred, inner sep=0pt] at (728,713) {\numfont\fontsize{21pt}{22pt}\selectfont 5};
\node[text=annred, inner sep=0pt] at (942,708) {\numfont\fontsize{21pt}{22pt}\selectfont 6};
% price range bar on right axis + current price tag
\fill[red!75!black] (1667.8,198) rectangle (1671,257);
\fill[red!60] (1667.8,257) rectangle (1671,287);
\fill[blue!45!cyan!50!white] (1667.8,287) rectangle (1671,317);
\fill[boxblue] (1667.8,317) rectangle (1671,375);
\fill[white] (1680,282) rectangle (1723,312);
\fill[boxblue] (1672,290.5) -- (1679,285) -- (1679,296) -- cycle;
\fill[boxblue] (1681.5,283.5) rectangle (1721,297.5);
\node[anchor=east, inner sep=0pt, text=white] at (1720.5,290.8) {\tf 94,700};
\node[anchor=east, inner sep=0pt, text=boxblue] at (1720.5,305.5) {\tf -1.97\%};
% right border
\fill[black!8] (1726,18.5) rectangle (1731,835);
\draw[framec, line width=0.5pt] (1726,18.5) -- (1726,835);
% bottom scrollbar
\fill[black!9] (0,836) rectangle (1731,852);
\draw[framec, line width=0.5pt] (0,835.75) -- (1731,835.75);
\fill[black!55] (6,844) -- (13,839) -- (13,849) -- cycle;
\fill[black!22] (1410,838) rectangle (1582,851);
\fill[black!55] (1596,844) -- (1589,839) -- (1589,849) -- cycle;
\draw[black!50, line width=0.4pt] (1605,840) rectangle (1665,845);
\fill[white, draw=black!50, line width=0.3pt] (1611,838) rectangle (1616,847);
\foreach \xx in {1607,1611,...,1663}{\draw[black!50, line width=0.3pt] (\xx,848) -- (\xx,851);}
\foreach \xx in {1681,1698,1715}{
  \draw[black!60, line width=0.6pt] (\xx,843) circle (4.5);
  \draw[black!60, line width=1pt] (\xx+3,846) -- (\xx+7,850);
}
\end{scope}
\end{tikzpicture}
\end{document}
